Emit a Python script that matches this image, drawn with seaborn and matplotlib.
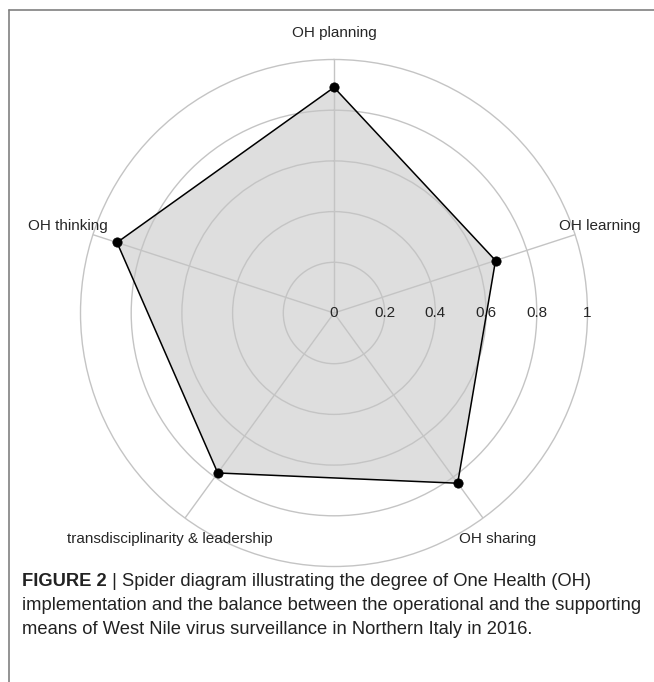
import numpy as np
import pandas as pd
import matplotlib
matplotlib.use("Agg")
import matplotlib.pyplot as plt
import seaborn as sns
from matplotlib.lines import Line2D

# ---- data ----
categories = ["OH planning", "OH learning", "OH sharing",
              "transdisciplinarity & leadership", "OH thinking"]
values = [0.89, 0.67, 0.83, 0.78, 0.90]
ring_ticks = [0, 0.2, 0.4, 0.6, 0.8, 1.0]
ring_labels = ["0", "0.2", "0.4", "0.6", "0.8", "1"]
caption_bold = "FIGURE 2"
caption_line1 = " | Spider diagram illustrating the degree of One Health (OH)"
caption_line2 = "implementation and the balance between the operational and the supporting"
caption_line3 = "means of West Nile virus surveillance in Northern Italy in 2016."

sns.set_style("white")
plt.rcParams['font.family'] = ['Liberation Sans', 'DejaVu Sans']

W, H = 654, 682
fig = plt.figure(figsize=(W / 100, H / 100), dpi=100)
cx, cy, R = 334, 313, 253.5
ax = fig.add_axes([(cx - R) / W, (H - cy - R) / H, 2 * R / W, 2 * R / H],
                  projection='polar')
ax.set_theta_offset(np.pi / 2)
ax.set_theta_direction(-1)
ax.set_axisbelow(False)

n = len(categories)
angles = np.arange(n) * 2 * np.pi / n
df = pd.DataFrame({"theta": np.append(angles, angles[0]),
                   "r": values + [values[0]]})

ax.fill(df["theta"], df["r"], color="#dedede", zorder=1, lw=0)
sns.lineplot(data=df, x="theta", y="r", sort=False, color="black",
             lw=1.1, ax=ax, zorder=3, estimator=None)
sns.scatterplot(data=df.iloc[:-1], x="theta", y="r", color="black", s=45,
                ax=ax, zorder=4, edgecolor="black", linewidth=0.5)

ax.set_ylim(0, 1)
ax.set_yticks(ring_ticks[1:-1])
ax.set_yticklabels([])
ax.set_xticks(angles)
ax.set_xticklabels([])
ax.grid(True, color="#c4c4c4", lw=1, zorder=2)
for gl in ax.xaxis.get_gridlines() + ax.yaxis.get_gridlines():
    gl.set_zorder(2)
ax.spines['polar'].set_color("#c4c4c4")
ax.spines['polar'].set_linewidth(1)
ax.set_xlabel("")
ax.set_ylabel("")

for t, lab in zip(ring_ticks, ring_labels):
    ax.text(np.pi / 2, t, lab, ha='center', va='center', fontsize=11, zorder=5)

# category labels (pixel positions)
label_pos = [(334, 33), (600, 226), (498, 539), (170, 539), (68, 226)]
for lab, (px, py) in zip(categories, label_pos):
    fig.text(px / W, 1 - py / H, lab, ha='center', va='center', fontsize=11)

# frame lines
fig.add_artist(Line2D([9 / W, 1], [1 - 10 / H, 1 - 10 / H], color="#808080", lw=1.2,
                      transform=fig.transFigure))
fig.add_artist(Line2D([9 / W, 9 / W], [1 - 10 / H, 0], color="#808080", lw=1.2,
                      transform=fig.transFigure))

# caption
fs = 13.2
x0 = 22 / W
t1 = fig.text(x0, 1 - 582 / H, caption_bold, fontsize=fs, fontweight='bold',
              ha='left', va='center', color="#222222")
fig.canvas.draw()
bb = t1.get_window_extent(renderer=fig.canvas.get_renderer())
fig.text(bb.x1 / W, 1 - 582 / H, caption_line1, fontsize=fs, ha='left', va='center',
         color="#222222")
fig.text(x0, 1 - 606 / H, caption_line2, fontsize=fs, ha='left', va='center',
         color="#222222")
fig.text(x0, 1 - 629 / H, caption_line3, fontsize=fs, ha='left', va='center',
         color="#222222")

fig.savefig("out.png", dpi=100)
